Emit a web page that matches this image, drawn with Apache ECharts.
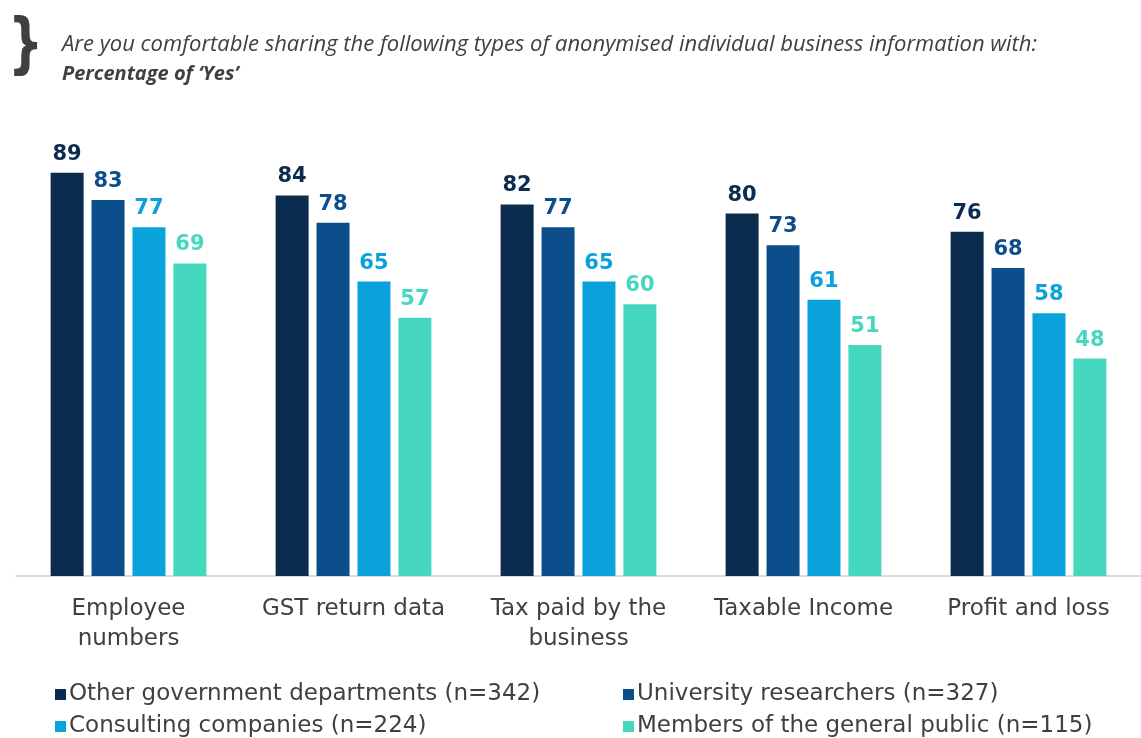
<!DOCTYPE html>
<html>
<head>
<meta charset="utf-8">
<script src="https://cdn.jsdelivr.net/npm/echarts@6/dist/echarts.min.js"></script>
<style>
html,body{margin:0;padding:0;background:#fff;}
#main{width:1141px;height:738px;}
</style>
</head>
<body>
<div id="main"></div>
<script>
var categories = ['Employee\nnumbers', 'GST return data', 'Tax paid by the\nbusiness', 'Taxable Income', 'Profit and loss'];
var seriesNames = ['Other government departments (n=342)', 'University researchers (n=327)', 'Consulting companies (n=224)', 'Members of the general public (n=115)'];
var govValues = [89, 84, 82, 80, 76];
var uniValues = [83, 78, 77, 73, 68];
var consultValues = [77, 65, 65, 61, 58];
var publicValues = [69, 57, 60, 51, 48];
var colors = ['#0c2c4f', '#0b4e8b', '#0aa2da', '#46d8bf'];

var chart = echarts.init(document.getElementById('main'));
var font = 'DejaVu Sans';

function makeSeries(name, data, color){
	return {
		name: name,
		type: 'bar',
		data: data,
		barWidth: 33,
		barGap: '24%',
		itemStyle: {color: color},
		label: {
			show: true,
			position: 'top',
			distance: 8,
			color: color,
			fontFamily: font,
			fontWeight: 'bold',
			fontSize: 21
		}
	};
}

function legendAt(name, left, top){
	return {
		data: [name],
		left: left,
		top: top,
		itemWidth: 11,
		itemHeight: 11,
		icon: 'rect',
		itemGap: 0,
		textStyle: {fontFamily: font, fontSize: 23, color: '#404040', padding: [0, 0, 0, -2]}
	};
}

var option = {
	animation: false,
	title: {
		text: 'Are you comfortable sharing the following types of anonymised individual business information with:',
		subtext: 'Percentage of \u2018Yes\u2019',
		left: 57,
		top: 29,
		itemGap: 8,
		textStyle: {fontFamily: 'Open Sans', fontStyle: 'italic', fontWeight: 'normal', fontSize: 22, color: '#404040'},
		subtextStyle: {fontFamily: 'Open Sans', fontStyle: 'italic', fontWeight: 'bold', fontSize: 20, color: '#404040'}
	},
	graphic: [{
		type: 'text',
		x: 8,
		y: 15,
		scaleX: 0.75,
		style: {text: '}', fontFamily: 'DejaVu Sans', fontWeight: 'bold', fontSize: 66, fill: '#404040'}
	}],
	legend: [
		legendAt(seriesNames[0], 50, 678),
		legendAt(seriesNames[1], 618, 678),
		legendAt(seriesNames[2], 50, 710),
		legendAt(seriesNames[3], 618, 710)
	],
	grid: {left: 16, top: 123, width: 1130, bottom: 162},
	xAxis: {
		type: 'category',
		data: categories,
		axisTick: {show: false},
		axisLine: {lineStyle: {color: '#d0d0d0', width: 1.5}},
		axisLabel: {fontFamily: font, fontSize: 23, color: '#404040', lineHeight: 30, margin: 18, interval: 0}
	},
	yAxis: {
		type: 'value',
		min: 0,
		max: 100,
		show: false
	},
	series: [
		makeSeries(seriesNames[0], govValues, colors[0]),
		makeSeries(seriesNames[1], uniValues, colors[1]),
		makeSeries(seriesNames[2], consultValues, colors[2]),
		makeSeries(seriesNames[3], publicValues, colors[3])
	]
};

chart.setOption(option);
</script>
</body>
</html>
